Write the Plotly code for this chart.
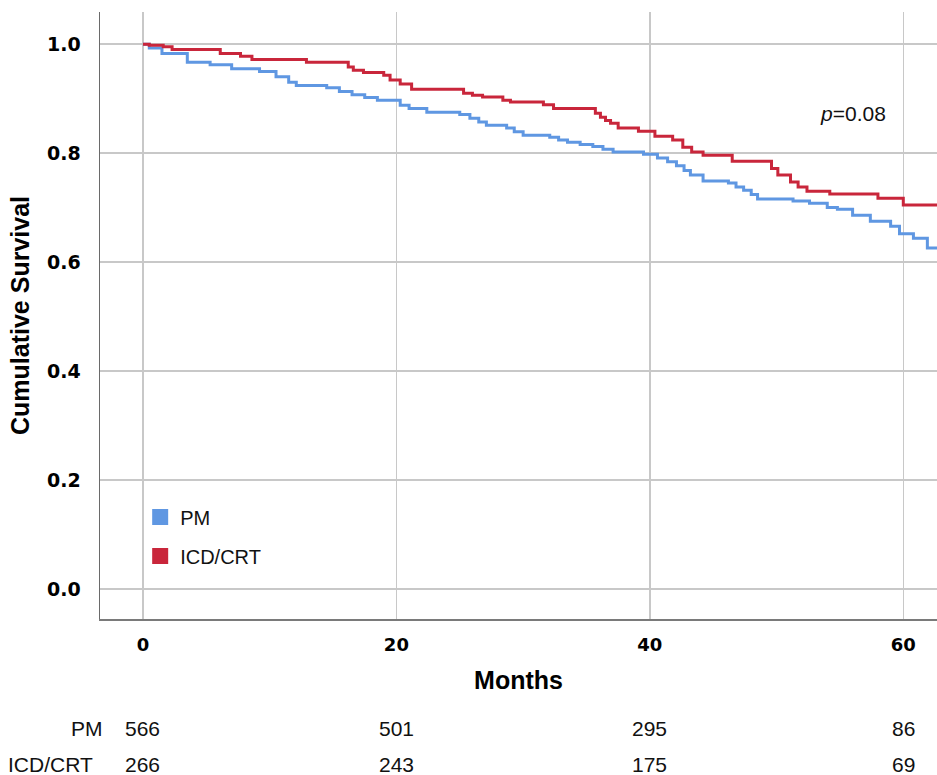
import plotly.graph_objects as go

# ---- data ----
pm_time = [0, 0.5, 1.5, 3.5, 5.3, 7.0, 9.2, 10.5, 11.5, 12.1, 14.5, 15.5, 16.5, 17.5, 18.5,
           20.3, 21.0, 22.4, 25.0, 25.8, 26.5, 27.1, 28.7, 29.3, 30.0, 32.1, 32.8, 33.5,
           34.5, 35.5, 36.3, 37.1, 39.5, 40.6, 41.4, 42.1, 42.7, 43.2, 44.2, 46.2, 46.8,
           47.4, 48.0, 48.5, 51.3, 52.6, 54.0, 54.8, 56.0, 57.4, 59.0, 59.7, 60.8, 61.9, 62.7]
pm_surv = [1.0, 0.993, 0.983, 0.967, 0.962, 0.955, 0.950, 0.940, 0.930, 0.924, 0.920, 0.913,
           0.907, 0.902, 0.897, 0.888, 0.882, 0.875, 0.871, 0.864, 0.857, 0.851, 0.846, 0.839,
           0.833, 0.829, 0.824, 0.820, 0.816, 0.812, 0.807, 0.802, 0.798, 0.791, 0.784, 0.777,
           0.768, 0.760, 0.749, 0.745, 0.738, 0.732, 0.724, 0.716, 0.712, 0.708, 0.700, 0.697,
           0.686, 0.675, 0.666, 0.652, 0.644, 0.626, 0.626]

icd_time = [0, 0.5, 1.6, 2.3, 6.1, 7.7, 8.6, 12.9, 16.2, 16.6, 17.4, 19.0, 19.5, 20.3, 21.2,
            25.3, 26.0, 26.8, 28.4, 29.0, 31.6, 32.4, 35.7, 36.1, 36.5, 36.9, 37.5, 39.1,
            40.4, 41.8, 42.6, 43.3, 44.2, 46.5, 49.6, 50.1, 51.1, 51.7, 52.4, 54.2, 58.0,
            60.0, 62.7]
icd_surv = [1.0, 0.998, 0.995, 0.990, 0.983, 0.978, 0.972, 0.967, 0.958, 0.952, 0.948, 0.943,
            0.934, 0.927, 0.917, 0.910, 0.906, 0.903, 0.897, 0.894, 0.889, 0.882, 0.873, 0.866,
            0.860, 0.855, 0.846, 0.840, 0.831, 0.824, 0.811, 0.802, 0.796, 0.785, 0.772, 0.760,
            0.747, 0.738, 0.730, 0.725, 0.717, 0.705, 0.705]

groups = ["PM", "ICD/CRT"]
risk_times = [0, 20, 40, 60]
risk_pm = [566, 501, 295, 86]
risk_icd = [266, 243, 175, 69]
x_ticks = [0, 20, 40, 60]
y_ticks = [0.0, 0.2, 0.4, 0.6, 0.8, 1.0]
p_label = "<i>p</i>=0.08"

BLUE = "#5F97E2"
RED = "#C9263B"
TXT = "Liberation Sans Narrow, Arial Narrow, Arial"

fig = go.Figure()
fig.add_trace(go.Scatter(x=pm_time, y=pm_surv, mode="lines", line=dict(color=BLUE, width=3, shape="hv"),
                         showlegend=False, hoverinfo="skip"))
fig.add_trace(go.Scatter(x=icd_time, y=icd_surv, mode="lines", line=dict(color=RED, width=3, shape="hv"),
                         showlegend=False, hoverinfo="skip"))
# legend entries (square swatches)
for name, col in zip(groups, [BLUE, RED]):
    fig.add_trace(go.Scatter(x=[None], y=[None], mode="markers", name=name, legendgroup=name,
                             marker=dict(symbol="square", size=16, color=col)))

annotations = []
annotations.append(dict(x=56.0, y=0.873, xref="x", yref="y", text=p_label, showarrow=False,
                        font=dict(family="Liberation Sans, Arial", size=21, color="#111")))
# risk table
row_y = [-0.1796, -0.239]
row_labels = groups
row_vals = [risk_pm, risk_icd]
row_lab_x = [0.0065, -0.0055]
for ry, lab, vals, lx in zip(row_y, row_labels, row_vals, row_lab_x):
    annotations.append(dict(x=lx, y=ry, xref="paper", yref="paper", text=lab, showarrow=False,
                            xanchor="right", yanchor="middle",
                            font=dict(family=TXT, size=21, color="#111")))
    for t, v in zip(risk_times, vals):
        annotations.append(dict(x=t, y=ry, xref="x", yref="paper", text=str(v), showarrow=False,
                                xanchor="center", yanchor="middle",
                                font=dict(family=TXT, size=21, color="#111")))

fig.update_layout(
    width=937, height=775,
    margin=dict(l=100, r=0, t=12, b=156),
    paper_bgcolor="white", plot_bgcolor="white",
    showlegend=True,
    legend=dict(x=0.048, y=0.2, xanchor="left", yanchor="top", bgcolor="rgba(0,0,0,0)",
                font=dict(family=TXT, size=20, color="#111"),
                tracegroupgap=10, itemwidth=30),
    annotations=annotations,
    xaxis=dict(range=[-3.39, 62.66], tickvals=x_ticks, ticktext=[str(t) for t in x_ticks],
               showgrid=True, gridcolor="#c8c8c8", gridwidth=1.5, zeroline=False,
               showline=True, linecolor="#7a7a7a", linewidth=2, ticks="", ticklabelstandoff=8,
               tickfont=dict(family="DejaVu Sans", size=18, color="#000", weight="bold"),
               title=dict(text="<b>Months</b>", standoff=18,
                          font=dict(family="Liberation Sans, Arial", size=25, color="#000"))),
    yaxis=dict(range=[-0.055, 1.059], tickvals=y_ticks, ticktext=[f"{v:.1f}" for v in y_ticks],
               showgrid=True, gridcolor="#c8c8c8", gridwidth=1.5, zeroline=False,
               showline=True, linecolor="#6a6a6a", linewidth=1.5, ticks="", ticklabelstandoff=14,
               tickfont=dict(family="DejaVu Sans", size=19, color="#000", weight="bold"),
               title=dict(text="<b>Cumulative Survival</b>", standoff=10,
                          font=dict(family="Liberation Sans, Arial", size=25, color="#000"))),
)

fig.write_html("out.html", config={"displayModeBar": False, "staticPlot": True},
               post_script="document.body.style.margin='0';document.body.style.overflow='hidden';")
